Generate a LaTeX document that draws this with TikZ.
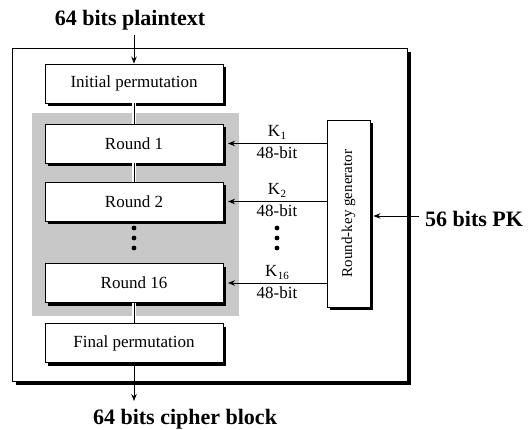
\documentclass[tikz,border=0pt]{standalone}
\usepackage{fontspec}
\setmainfont{Liberation Serif}
\usetikzlibrary{arrows.meta}
\definecolor{panelgray}{RGB}{200,200,200}
\newcommand{\Ksub}[1]{K\kern0.5pt\lower3pt\hbox{\fontsize{11}{11}\selectfont #1}}
\tikzset{
  boxtext/.style={font=\fontsize{17}{20}\selectfont},
  biglabel/.style={font=\fontsize{22}{26}\selectfont\bfseries, inner sep=0pt},
  stagebox/.style={draw=black, line width=0.9pt, fill=white, minimum width=178pt, minimum height=39pt, inner sep=0pt, boxtext},
  shadowbox/.style={fill=black, draw=none},
  arr/.style={line width=0.9pt, -{Stealth[length=7pt,width=5.5pt]}},
  conn/.style={line width=0.9pt},
  keytext/.style={boxtext, inner sep=1pt},
  dotmark/.style={fill=black, draw=none}
}
\begin{document}
\begin{tikzpicture}[x=1pt,y=-1pt]
\useasboundingbox (0,0) rectangle (529,430);
% outer frame with shadow
\fill[black] (16,52) rectangle (411,385);
\draw[line width=0.9pt, fill=white] (12,48) rectangle (407,381);
% gray panel
\fill[panelgray] (32,113) rectangle (239,316);
% stage shadows
\foreach \yc in {83.5,143.5,201.5,283,343}{
  \fill[black] (48,\yc-16.5) rectangle (226,\yc+22.5);
}
% stage boxes
\node[stagebox] (ip) at (134,83.5) {Initial permutation};
\node[stagebox] (r1) at (134,143.5) {Round 1};
\node[stagebox] (r2) at (134,201.5) {Round 2};
\node[stagebox] (r16) at (134,283) {Round 16};
\node[stagebox] (fp) at (134,343) {Final permutation};
% round-key generator
\fill[black] (330,123) rectangle (373,310);
\node[draw=black, line width=0.9pt, fill=white, minimum width=43pt, minimum height=187pt, inner sep=0pt] (rkg) at (348.5,213.5) {};
\node[rotate=90, font=\fontsize{15}{18}\selectfont] (rkgt) at (rkg.center) {Round-key generator};
% connectors between stages
\draw[white, line width=4pt] (ip.south) -- (r1.north);
\draw[white, line width=4pt] (r1.south) -- (r2.north);
\draw[white, line width=4pt] (r16.south) -- (fp.north);
\draw[conn] (ip.south) -- (r1.north);
\draw[conn] (r1.south) -- (r2.north);
\draw[conn] (r16.south) -- (fp.north);
% dots
\foreach \yy in {228,238,248}{
  \fill[dotmark] (134,\yy) circle (2.4);
  \fill[dotmark] (277,\yy) circle (2.4);
}
% key arrows
\coordinate (k1s) at (rkg.west |- r1.east);
\coordinate (k2s) at (rkg.west |- r2.east);
\coordinate (k16s) at (rkg.west |- r16.east);
\coordinate (k1e) at (228,143.5);
\coordinate (k2e) at (228,201.5);
\coordinate (k16e) at (228,283);
\draw[arr] (k1s) -- (k1e);
\draw[arr] (k2s) -- (k2e);
\draw[arr] (k16s) -- (k16e);
\node[keytext, anchor=south] (k1) at (277,141) {\Ksub{1}};
\node[keytext, anchor=north] (b1) at (277,146) {48-bit};
\node[keytext, anchor=south] (k2) at (277,199) {\Ksub{2}};
\node[keytext, anchor=north] (b2) at (277,204) {48-bit};
\node[keytext, anchor=south] (k16) at (277,280.5) {\Ksub{16}};
\node[keytext, anchor=north] (b16) at (277,285.5) {48-bit};
% external labels
\node[biglabel] (pt) at (130,20) {64 bits plaintext};
\coordinate (pts) at (134,35);
\draw[arr] (pts) -- (ip.north);
\node[biglabel] (cb) at (185,419) {64 bits cipher block};
\coordinate (cbe) at (134,401);
\draw[arr] (fp.south) -- (cbe);
\node[biglabel, anchor=west] (pk) at (425,219) {56 bits PK};
\coordinate (pks) at (419,216);
\coordinate (pke) at (rkg.east |- pks);
\draw[arr] (pks) -- ([xshift=3pt]pke);
\end{tikzpicture}
\end{document}
